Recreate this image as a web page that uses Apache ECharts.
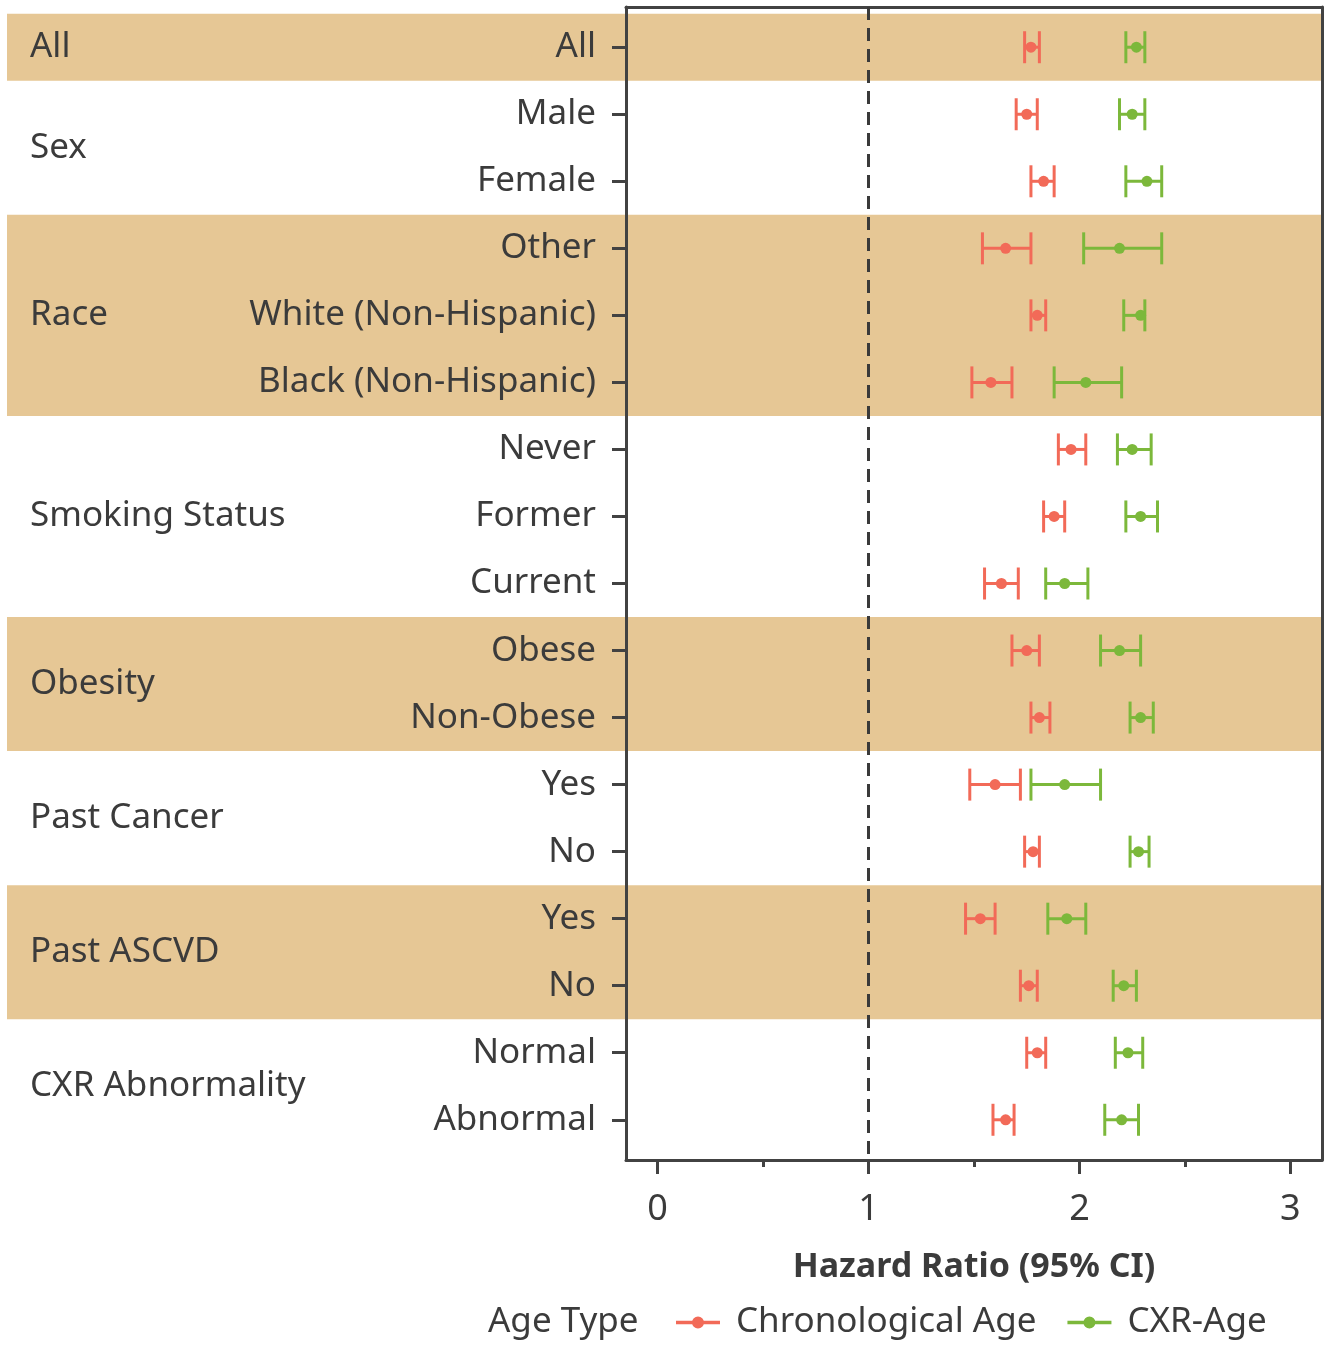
<!DOCTYPE html>
<html><head><meta charset="utf-8">
<script src="https://cdn.jsdelivr.net/npm/echarts@6/dist/echarts.min.js"></script>
<style>html,body{margin:0;padding:0;background:#fff}#c{width:1332px;height:1347px}</style>
</head><body><div id="c"></div>
<script>
const rowLabels = ['All','Male','Female','Other','White (Non-Hispanic)','Black (Non-Hispanic)','Never','Former','Current','Obese','Non-Obese','Yes','No','Yes','No','Normal','Abnormal'];
const groupNames = ['All','Sex','Race','Smoking Status','Obesity','Past Cancer','Past ASCVD','CXR Abnormality'];
const groupFirstRow = [0,1,3,6,9,11,13,15];
const groupLastRow  = [0,2,5,8,10,12,14,16];
const shadedGroups = [0,2,4,6];
const chronoMid = [1.77,1.75,1.83,1.65,1.80,1.58,1.96,1.88,1.63,1.75,1.81,1.60,1.78,1.53,1.76,1.80,1.65];
const chronoLo  = [1.74,1.70,1.77,1.54,1.77,1.49,1.90,1.83,1.55,1.68,1.77,1.48,1.74,1.46,1.72,1.75,1.59];
const chronoHi  = [1.81,1.80,1.88,1.77,1.84,1.68,2.03,1.93,1.71,1.81,1.86,1.72,1.81,1.60,1.80,1.84,1.69];
const cxrMid = [2.27,2.25,2.32,2.19,2.29,2.03,2.25,2.29,1.93,2.19,2.29,1.93,2.28,1.94,2.21,2.23,2.20];
const cxrLo  = [2.22,2.19,2.22,2.02,2.21,1.88,2.18,2.22,1.84,2.10,2.24,1.77,2.24,1.85,2.16,2.17,2.12];
const cxrHi  = [2.31,2.31,2.39,2.39,2.31,2.20,2.34,2.37,2.04,2.29,2.35,2.10,2.33,2.03,2.27,2.30,2.28];
const xTicks = [0,1,2,3];
const xMinorTicks = [0.5,1.5,2.5];
const refLine = 1;

const FONT = 'Noto Sans';
const FS = 35;
const TXT = '#3b3b3b';
const AX = '#424242';
const RED = '#F26A58';
const GREEN = '#7CB83B';
const BAND = '#E6C795';
const LEGEND_ICON = 'path://M0,4.25L44,4.25L44,7.75L0,7.75Z M22,0A6,6,0,1,1,22,12A6,6,0,1,1,22,0Z';
const X_MIN = -0.15, X_MAX = 3.15, Y_MIN = -0.6, Y_MAX = 16.6;

const rows = rowLabels.map((_, i) => i);
const mk = (lo, mid, hi) => rows.map(i => [i, lo[i], mid[i], hi[i]]);

function errRender(params, api) {
  const row = api.value(0);
  const pL = api.coord([api.value(1), row]);
  const pM = api.coord([api.value(2), row]);
  const pH = api.coord([api.value(3), row]);
  const col = api.visual('color');
  const cap = 16;
  const st = {stroke: col, lineWidth: 3};
  return {type: 'group', children: [
    {type: 'line', shape: {x1: pL[0], y1: pL[1], x2: pH[0], y2: pH[1]}, style: st},
    {type: 'line', shape: {x1: pL[0], y1: pL[1] - cap, x2: pL[0], y2: pL[1] + cap}, style: st},
    {type: 'line', shape: {x1: pH[0], y1: pH[1] - cap, x2: pH[0], y2: pH[1] + cap}, style: st},
    {type: 'circle', shape: {cx: pM[0], cy: pM[1], r: 5.5}, style: {fill: col}}
  ]};
}

function bandRender(params, api) {
  const g = api.value(0);
  const top = api.coord([0, groupFirstRow[g] - 0.5])[1];
  const bot = api.coord([0, groupLastRow[g] + 0.5])[1];
  const cs = params.coordSys;
  return {type: 'rect', shape: {x: 7, y: top, width: cs.x + cs.width - 7, height: bot - top}, style: {fill: BAND}};
}

function groupRender(params, api) {
  const g = api.value(0);
  const y = api.coord([0, (groupFirstRow[g] + groupLastRow[g]) / 2])[1];
  return {type: 'text', x: 30, y: y, style: {text: groupNames[g], fontSize: FS, fontFamily: FONT, fill: TXT, align: 'left', verticalAlign: 'middle'}};
}

const frameLine = {show: true, onZero: false, lineStyle: {color: AX, width: 3}};
const chart = echarts.init(document.getElementById('c'), null, {renderer: 'canvas'});
chart.setOption({
  animation: false,
  grid: {left: 626, right: 10, top: 7, bottom: 187, show: false},
  xAxis: [{
    type: 'value', min: X_MIN, max: X_MAX, position: 'bottom',
    axisLine: frameLine, splitLine: {show: false},
    axisTick: {show: true, length: 14, lineStyle: {color: AX, width: 3}, customValues: xTicks},
    axisLabel: {show: true, customValues: xTicks, fontSize: 36, fontFamily: FONT, color: TXT, margin: 32},
    name: 'Hazard Ratio (95% CI)', nameLocation: 'middle', nameGap: 90,
    nameTextStyle: {fontSize: 34, fontFamily: FONT, fontWeight: 'bold', color: TXT}
  }, {
    type: 'value', min: X_MIN, max: X_MAX, position: 'bottom', offset: 0,
    axisLine: {show: false, onZero: false}, splitLine: {show: false},
    axisTick: {show: true, length: 7, lineStyle: {color: AX, width: 3}, customValues: xMinorTicks},
    axisLabel: {show: false}
  }, {
    type: 'value', min: X_MIN, max: X_MAX, position: 'top', offset: 0,
    axisLine: frameLine, splitLine: {show: false}, axisTick: {show: false}, axisLabel: {show: false}
  }],
  yAxis: [{
    type: 'value', inverse: true, min: Y_MIN, max: Y_MAX, position: 'left',
    axisLine: frameLine, splitLine: {show: false},
    axisTick: {show: true, length: 14, lineStyle: {color: AX, width: 3}, customValues: rows},
    axisLabel: {show: true, customValues: rows, fontSize: FS, fontFamily: FONT, color: TXT, margin: 30,
      formatter: v => rowLabels[Math.round(v)]}
  }, {
    type: 'value', inverse: true, min: Y_MIN, max: Y_MAX, position: 'right', offset: 0,
    axisLine: frameLine, splitLine: {show: false}, axisTick: {show: false}, axisLabel: {show: false}
  }],
  legend: {
    left: 676, top: 1305, padding: 0, itemWidth: 44, itemHeight: 12, itemGap: 31,
    textStyle: {fontSize: FS, fontFamily: FONT, color: TXT, padding: [0, 0, 0, 11]},
    data: [
      {name: 'Chronological Age', icon: LEGEND_ICON},
      {name: 'CXR-Age', icon: LEGEND_ICON}
    ]
  },
  graphic: [{type: 'text', left: 488, top: 1305, style: {text: 'Age Type', fontSize: FS, fontFamily: FONT, fill: TXT}}],
  series: [
    {type: 'custom', name: 'bands', z: -1, silent: true, renderItem: bandRender,
      data: shadedGroups.map(g => [g]), encode: {x: -1, y: -1}},
    {type: 'custom', name: 'groups', silent: true, renderItem: groupRender,
      data: groupNames.map((_, g) => [g]), encode: {x: -1, y: -1}},
    {type: 'custom', name: 'Chronological Age', renderItem: errRender, itemStyle: {color: RED},
      data: mk(chronoLo, chronoMid, chronoHi), encode: {x: [1, 2, 3], y: 0},
      markLine: {silent: true, symbol: 'none', label: {show: false},
        lineStyle: {type: [13, 8], color: '#3a3a3a', width: 3}, data: [{xAxis: refLine}]}},
    {type: 'custom', name: 'CXR-Age', renderItem: errRender, itemStyle: {color: GREEN},
      data: mk(cxrLo, cxrMid, cxrHi), encode: {x: [1, 2, 3], y: 0}}
  ]
});
</script></body></html>
